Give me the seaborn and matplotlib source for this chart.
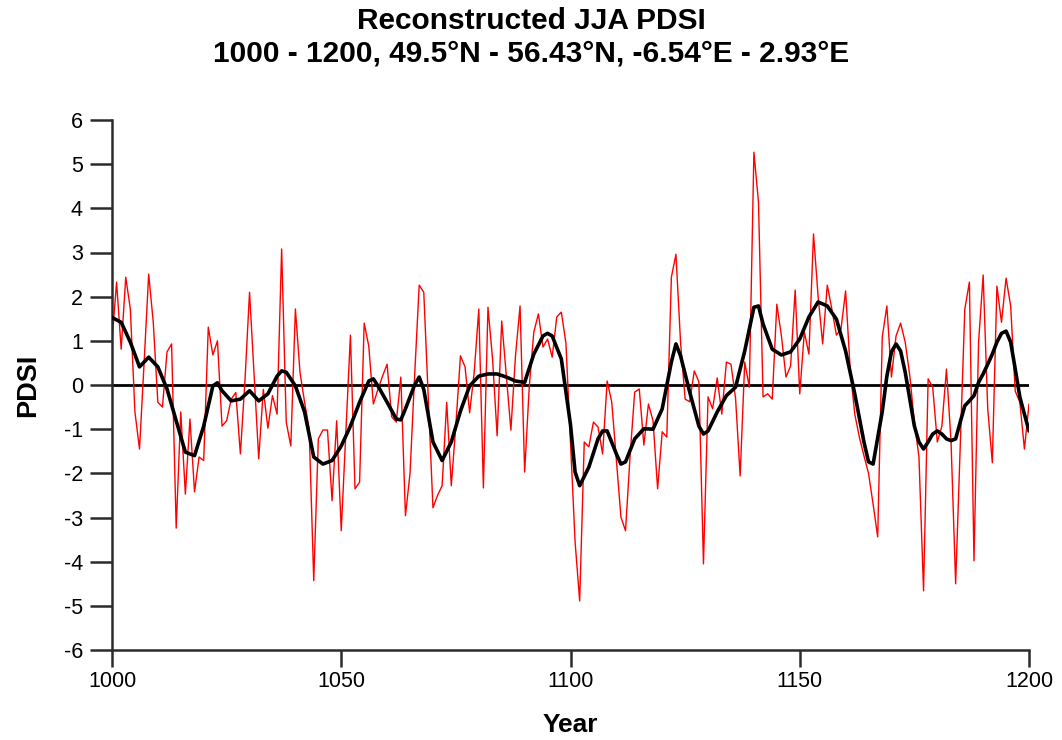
import matplotlib
matplotlib.use("Agg")
import matplotlib.pyplot as plt
import seaborn as sns
import numpy as np
import pandas as pd

# ---------------- data ----------------
years = list(range(1000, 1201))

pdsi = [
    1.00, 2.33, 0.81, 2.44, 1.72, -0.61, -1.45, 0.50, 2.51, 1.42,     # 1000-1009
    -0.39, -0.50, 0.75, 0.93, -3.24, -0.61, -2.47, -0.77, -2.42, -1.63,  # 1010-1019
    -1.71, 1.31, 0.68, 1.00, -0.93, -0.81, -0.32, -0.17, -1.56, 0.10,  # 1020-1029
    2.10, 0.20, -1.67, -0.10, -0.98, -0.24, -0.66, 3.08, -0.84, -1.38,  # 1030-1039
    1.72, 0.29, -0.39, -0.99, -4.43, -1.22, -1.02, -1.02, -2.62, -0.81,  # 1040-1049
    -3.30, -1.10, 1.13, -2.35, -2.20, 1.40, 0.88, -0.43, -0.10, 0.20,  # 1050-1059
    0.47, -0.72, -0.84, 0.18, -2.96, -2.00, 0.20, 2.26, 2.10, -0.35,  # 1060-1069
    -2.78, -2.50, -2.28, -0.39, -2.28, -0.90, 0.66, 0.41, -0.63, 0.29,  # 1070-1079
    1.72, -2.33, 1.76, 0.59, -1.15, 1.45, 0.21, -1.02, 0.66, 1.79,  # 1080-1089
    -1.97, -0.05, 1.20, 1.61, 0.86, 1.04, 0.63, 1.54, 1.65, 0.95,  # 1090-1099
    -1.30, -3.55, -4.89, -1.29, -1.40, -0.84, -0.95, -1.56, 0.09, -0.39,  # 1100-1109
    -1.70, -2.99, -3.30, -1.60, -0.16, -0.09, -1.36, -0.43, -0.81, -2.35,  # 1110-1119
    -1.06, -1.18, 2.44, 2.96, 0.97, -0.32, -0.38, 0.32, 0.07, -4.05,  # 1120-1129
    -0.27, -0.54, 0.16, -0.66, 0.52, 0.47, -0.30, -2.06, 0.52, -0.05,  # 1130-1139
    5.27, 4.14, -0.27, -0.20, -0.32, 1.83, 1.11, 0.18, 0.43, 2.15,  # 1140-1149
    -0.20, 1.20, 0.70, 3.42, 2.01, 0.93, 2.26, 1.72, 1.13, 1.27,  # 1150-1159
    2.13, 0.36, -0.66, -1.18, -1.60, -2.00, -2.70, -3.44, 1.09, 1.79,  # 1160-1169
    0.18, 1.11, 1.40, 0.97, 0.21, -0.84, -1.63, -4.66, 0.14, -0.05,  # 1170-1179
    -1.29, -0.93, 0.36, -1.29, -4.50, -1.36, 1.72, 2.33, -3.98, 0.97,  # 1180-1189
    2.49, -0.54, -1.76, 2.24, 1.42, 2.42, 1.79, -0.14, -0.39, -1.45,  # 1190-1199
    -0.43,                                                             # 1200
]

smooth_years = [
    1000, 1002, 1004, 1006, 1008, 1010, 1012, 1014, 1016, 1018, 1020, 1022, 1023,
    1024, 1026, 1028, 1030, 1032, 1034, 1036, 1037, 1038, 1040, 1042, 1044, 1046,
    1048, 1050, 1052, 1054, 1056, 1057, 1058, 1060, 1062, 1063, 1064, 1066, 1067,
    1068, 1070, 1072, 1074, 1076, 1078, 1080, 1082, 1084, 1086, 1088, 1090, 1092,
    1094, 1095, 1096, 1098, 1100, 1101, 1102, 1104, 1106, 1107, 1108, 1110, 1111,
    1112, 1114, 1116, 1118, 1120, 1122, 1123, 1124, 1126, 1128, 1129, 1130, 1132,
    1134, 1136, 1138, 1140, 1141, 1142, 1144, 1146, 1148, 1150, 1152, 1154, 1156,
    1158, 1160, 1162, 1164, 1165, 1166, 1168, 1169, 1170, 1171, 1172, 1173, 1174,
    1175, 1176, 1177, 1178, 1179, 1180, 1181, 1182, 1183, 1184, 1185, 1186, 1187,
    1188, 1189, 1190, 1191, 1192, 1193, 1194, 1195, 1196, 1197, 1198, 1199, 1200,
]
smooth_vals = [
    1.53, 1.42, 0.97, 0.41, 0.63, 0.41, -0.09, -0.81, -1.52, -1.60, -0.93, -0.02, 0.05,
    -0.13, -0.36, -0.32, -0.13, -0.36, -0.20, 0.20, 0.32, 0.29, -0.02, -0.61, -1.63, -1.79,
    -1.71, -1.38, -0.93, -0.39, 0.09, 0.14, -0.02, -0.39, -0.77, -0.79, -0.54, 0.00, 0.18,
    -0.10, -1.29, -1.71, -1.29, -0.59, -0.02, 0.20, 0.25, 0.25, 0.18, 0.09, 0.06, 0.70,
    1.11, 1.17, 1.11, 0.59, -0.90, -1.97, -2.28, -1.86, -1.22, -1.04, -1.04, -1.56, -1.79,
    -1.74, -1.22, -0.99, -1.00, -0.54, 0.52, 0.93, 0.66, -0.16, -0.93, -1.11, -1.04, -0.61,
    -0.24, -0.05, 0.77, 1.76, 1.79, 1.38, 0.81, 0.68, 0.75, 1.04, 1.54, 1.88, 1.79,
    1.49, 0.77, -0.20, -1.29, -1.74, -1.79, -0.60, 0.20, 0.75, 0.93, 0.77, 0.29, -0.32,
    -0.93, -1.29, -1.45, -1.29, -1.11, -1.04, -1.11, -1.22, -1.26, -1.22, -0.84, -0.47, -0.36,
    -0.24, 0.06, 0.25, 0.47, 0.70, 0.97, 1.17, 1.22, 0.97, 0.36, -0.27, -0.66, -1.04,
]

x_ticks = [1000, 1050, 1100, 1150, 1200]
y_ticks = list(range(-6, 7))

title_line1 = "Reconstructed JJA PDSI"
title_line2 = "1000 - 1200, 49.5°N - 56.43°N, -6.54°E - 2.93°E"

# ---------------- plot ----------------
sns.set_theme(style="ticks")
plt.rcParams["font.family"] = ["Liberation Sans", "DejaVu Sans"]
plt.rcParams["text.color"] = "black"
plt.rcParams["axes.labelcolor"] = "black"

df_raw = pd.DataFrame({"Year": years, "PDSI": pdsi})
df_smooth = pd.DataFrame({"Year": smooth_years, "PDSI": smooth_vals})

fig = plt.figure(figsize=(10.62, 7.40), dpi=100)
ax = fig.add_axes([112 / 1062, 90 / 740, (1029 - 112) / 1062, (650 - 120) / 740])

ax.axhline(0, color="black", lw=2.0, zorder=1)
sns.lineplot(data=df_raw, x="Year", y="PDSI", ax=ax, color="#ff0000", lw=1.0, zorder=2)
sns.lineplot(data=df_smooth, x="Year", y="PDSI", ax=ax, color="black", lw=2.6, zorder=3)

ax.set_xlim(1000, 1200)
ax.set_ylim(-6, 6)
ax.set_xticks(x_ticks)
ax.set_yticks(y_ticks)
ax.set_xticklabels([str(t) for t in x_ticks])
ax.set_yticklabels([str(t) for t in y_ticks])

sns.despine(ax=ax)
for s in ["left", "bottom"]:
    ax.spines[s].set_color("#2b2b2b")
    ax.spines[s].set_linewidth(1.8)
ax.tick_params(axis="y", direction="out", length=16, width=1.8, color="#2b2b2b",
               labelsize=15.5, pad=5, labelcolor="black")
ax.tick_params(axis="x", direction="out", length=12, width=1.8, color="#2b2b2b",
               labelsize=15.5, pad=3, labelcolor="black")

ax.set_xlabel("Year", fontsize=19, fontweight="bold", labelpad=15)
ax.set_ylabel("PDSI", fontsize=19.5, fontweight="bold", labelpad=16)

fig.text(0.5, 1 - 21 / 740, title_line1, ha="center", va="center",
         fontsize=21.5, fontweight="bold")
fig.text(0.5, 1 - 54 / 740, title_line2, ha="center", va="center",
         fontsize=21.5, fontweight="bold")

fig.savefig("out.png", dpi=100)
